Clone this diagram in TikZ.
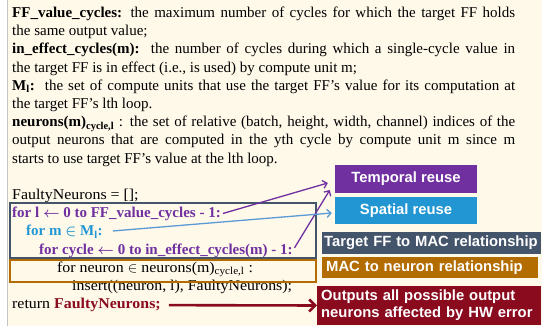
\documentclass[tikz,border=0pt]{standalone}
\usepackage{fontspec}
\setmainfont{Liberation Serif}
\setsansfont{Liberation Sans}
\newfontfamily\fncodefont{Liberation Serif}[FakeStretch=1.06]
\usepackage{amsmath, amssymb}
\usetikzlibrary{arrows.meta, positioning, calc}
\definecolor{FNcream}{HTML}{FFF9EA}
\definecolor{FNrule}{HTML}{C4C4C4}
\definecolor{FNpurple}{HTML}{7030A0}
\definecolor{FNblue}{HTML}{2196D3}
\definecolor{FNsky}{HTML}{5B9BD5}
\definecolor{FNnavy}{HTML}{44546A}
\definecolor{FNorange}{HTML}{B36C00}
\definecolor{FNred}{HTML}{8A0A1E}
\newcommand{\fnjust}[1]{\makebox[503pt][s]{#1}}
\tikzset{
  fnline/.style={anchor=base west, inner sep=0pt, font=\fontsize{15}{18.2}\selectfont\fncodefont},
  fndef/.style={fnline, font=\fontsize{15}{18.2}\selectfont},
  fncode/.style={fnline, font=\fontsize{15}{18.2}\selectfont\bfseries},
  fntag/.style={rectangle, text=white, inner xsep=4pt, inner ysep=2pt,
    font=\sffamily\bfseries\fontsize{14.8}{17}\selectfont},
  fnlefttag/.style={fntag, anchor=west, align=left},
  fnframe/.style={line width=2.4pt},
  fnarr/.style={-{Straight Barb[length=4pt,width=8pt]}, line width=1.3pt},
  fnarrthick/.style={-{Straight Barb[length=6pt,width=12pt]}, line width=2.6pt},
}

\begin{document}
\begin{tikzpicture}[x=1pt, y=-1pt]
  \useasboundingbox (0,0) rectangle (542,326);
  \fill[FNcream] (7,0) rectangle (542,326);
  \draw[FNrule, line width=1pt] (7,0) -- (7,326);

  % definitions
  \foreach \txt [count=\i from 0] in {
      {\fnjust{\textbf{FF\_value\_cycles:} the maximum number of cycles for which the target FF holds}},
      {the same output value;},
      {\fnjust{\textbf{in\_effect\_cycles(m):}\ \ the number of cycles during which a single-cycle value in}},
      {the target FF is in effect (i.e., is used) by compute unit m;},
      {\fnjust{\textbf{M\textsubscript{l}:}\ \ the set of compute units that use the target FF’s value for its computation at}},
      {the target FF’s lth loop.},
      {\fnjust{\textbf{neurons(m)\textsubscript{cycle,l}} : the set of relative (batch, height, width, channel) indices of the}},
      {\fnjust{output neurons that are computed in the yth cycle by compute unit m since m}},
      {starts to use target FF’s value at the lth loop.}}
    \node[fndef] (def\i) at (12,{17.5+18.2*\i}) {\txt};

  % pseudo code
  \node[fnline] (init) at (12,199.5) {FaultyNeurons = [];};
  \node[fncode, text=FNpurple] (forl) at (12,217.7) {for l $\boldsymbol{\leftarrow}$ 0 to FF\_value\_cycles - 1:};
  \node[fncode, text=FNblue] (form) at (26,235.9) {for m $\boldsymbol{\in}$ M\textsubscript{l}:};
  \node[fncode, text=FNpurple] (forcycle) at (39,254.1) {for cycle $\boldsymbol{\leftarrow}$ 0 to in\_effect\_cycles(m) - 1:};
  \node[fnline] (forneuron) at (57,272.3) {for neuron $\in$ neurons(m)\textsubscript{cycle,l} :};
  \node[fnline] (insert) at (72,290.5) {insert((neuron, l), FaultyNeurons);};
  \node[fnline] (ret) at (12,308.7) {return \textbf{\textcolor{FNred}{FaultyNeurons;}}};

  \draw[fnframe, FNnavy] (10,203) rectangle (316,258);
  \draw[fnframe, FNorange] (10,260) rectangle (316,282);

  % tags
  \node[fntag, fill=FNpurple, minimum width=142pt, minimum height=28pt] (temporal) at (406,179) {Temporal reuse};
  \node[fntag, fill=FNblue, minimum width=142pt, minimum height=27pt] (spatial) at (406,210.5) {Spatial reuse};
  \node[fnlefttag, fill=FNnavy, text width=215pt, minimum height=22pt, inner xsep=2pt] (ffmac) at (322,243) {Target FF to MAC relationship};
  \node[fnlefttag, fill=FNorange, text width=208pt, minimum height=21pt] (macneuron) at (322,267.5) {MAC to neuron relationship};
  \node[fnlefttag, fill=FNred, text width=216pt, minimum height=39pt] (outputs) at (317,305.5) {Outputs all possible output\\neurons affected by HW error};

  \draw[fnarr, FNpurple, shorten <=2pt] (forl.east) -- ($(temporal.west)+(-7,4)$);
  \draw[fnarr, FNpurple, shorten <=3pt] (forcycle.east) -- ($(temporal.west)+(-5,11)$);
  \draw[fnarr, FNsky, shorten <=10pt] (form.east) -- ($(spatial.west)+(-3,2.5)$);
  \draw[fnarrthick, FNred, shorten <=8pt] (ret.east) -- (outputs.west);
\end{tikzpicture}
\end{document}
